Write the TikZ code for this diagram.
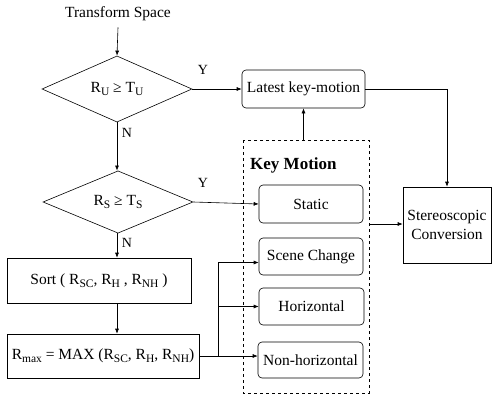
\documentclass[tikz,border=0pt]{standalone}
\usepackage{fontspec}
\setmainfont{Liberation Serif}
\usetikzlibrary{shapes.geometric,arrows.meta}
\newcommand{\sbs}[1]{\raisebox{-0.45ex}{\fontsize{11.5}{11.5}\selectfont #1}}
\begin{document}
\begin{tikzpicture}[x=1pt,y=-1pt,
  every node/.style={font=\fontsize{15.5}{17}\selectfont, inner sep=0pt},
  dec/.style={draw, shape=diamond, minimum width=150pt, minimum height=55pt, line width=0.6pt},
  rbox/.style={draw, rounded corners=4pt, line width=0.6pt},
  sbox/.style={draw, line width=0.6pt},
  arr/.style={-{Latex[length=5pt,width=4pt]}, line width=0.6pt},
  ln/.style={line width=0.6pt},
  lbl/.style={font=\fontsize{14}{16}\selectfont}]
\useasboundingbox (0,0) rectangle (493,397);
\node (ts) at (118,14) {Transform Space};
\node[dec] (d1) at (117,89) {R\sbs{U} ≥ T\sbs{U}};
\node[dec] (d2) at (118,202) {R\sbs{S} ≥ T\sbs{S}};
\node[rbox, minimum width=123pt, minimum height=38pt] (lk) at (303.5,89) {Latest key-motion};
\draw[dashed, line width=0.6pt] (243,140) rectangle (369,393);
\coordinate (kmtop) at (303.5,140);
\coordinate (kmright) at (369,224);
\node[font=\fontsize{17}{19}\selectfont\bfseries, anchor=west] (kml) at (250,165) {Key Motion};
\node[rbox, minimum width=104pt, minimum height=38pt] (st) at (311,204) {Static};
\node[rbox, minimum width=104pt, minimum height=37pt] (sc) at (311,256.5) {Scene Change};
\node[rbox, minimum width=105pt, minimum height=37pt] (ho) at (311.5,306.5) {Horizontal};
\node[rbox, minimum width=105pt, minimum height=36pt] (nh) at (310.5,360) {Non-horizontal};
\node[sbox, minimum width=88pt, minimum height=76pt, align=center] (sv) at (447,225) {Stereoscopic\\[2pt]Conversion};
\node[sbox, minimum width=184pt, minimum height=45pt] (so) at (99,280.5) {Sort ( R\sbs{SC}, R\sbs{H} , R\sbs{NH} )};
\node[sbox, minimum width=192pt, minimum height=44pt] (rm) at (103,356) {R\sbs{max} = MAX (R\sbs{SC}, R\sbs{H}, R\sbs{NH})};
\node[lbl] (y1) at (203,70) {Y};
\node[lbl] (n1) at (127,133) {N};
\node[lbl] (y2) at (203,183) {Y};
\node[lbl] (n2) at (127,243) {N};
\coordinate (j) at (218,356);
\draw[arr] (ts.south) ++(0,6) -- (d1.north);
\draw[arr] (d1.east) -- (lk.west);
\draw[arr] (d1.south) -- (d2.north -| d1.south);
\draw[arr] (d2.east) -- (st.west);
\draw[arr] (d2.south -| so.north -| d1.south) -- (so.north -| d1.south);
\draw[arr] (so.south -| d1.south) -- (rm.north -| d1.south);
\draw[arr] (kmtop) -- (lk.south);
\draw[arr] (lk.east) -| (sv.north);
\draw[arr] (kmright) -- (sv.west |- kmright);
\draw[ln] (rm.east |- j) -- (j);
\draw[arr] (j) -- (nh.west |- j);
\draw[arr] (j) |- ([yshift=-6pt]sc.west);
\draw[arr] (j |- ho.west) -- (ho.west);
\end{tikzpicture}
\end{document}
